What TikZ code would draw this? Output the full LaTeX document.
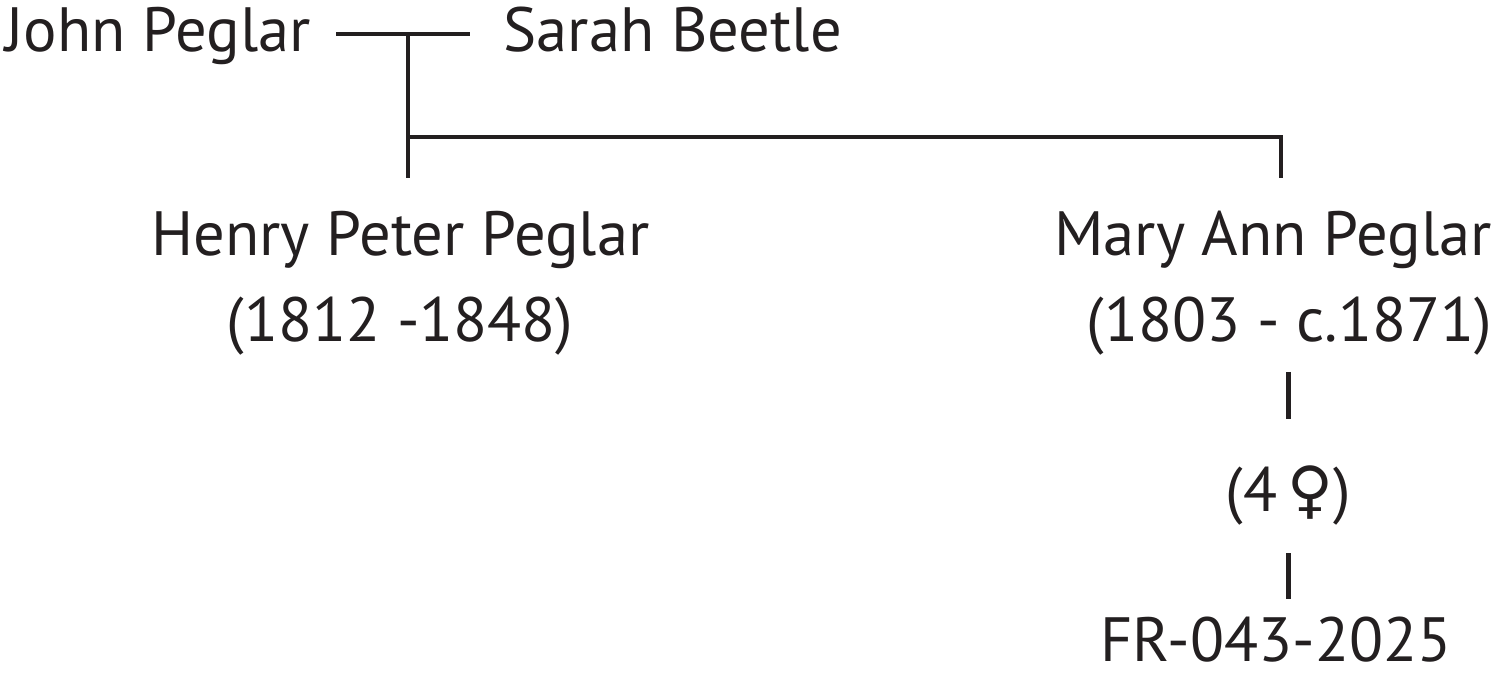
\documentclass[tikz,border=0pt]{standalone}
\usepackage{fontspec}
\setmainfont{PT Sans}
\newfontfamily\venusfont{DejaVu Sans}
\definecolor{ink}{RGB}{35,31,32}

\begin{document}
\begin{tikzpicture}[
	person/.style={inner sep=0pt, text=ink, font=\fontsize{17.8}{21}\selectfont},
	link/.style={draw=ink, line width=1.15pt},
	wedline/.style={draw=ink, line width=1.35pt}]
	\useasboundingbox (0,0) rectangle (15,6.72);
	% parents
	\node[person, anchor=base west] (john) at (0.05, 6.20) {John Peglar};
	\node[person, anchor=base west] (sarah) at (5.03, 6.20) {Sarah Beetle};
	\coordinate (wed) at (4.08, 6.38);
	\coordinate (kin) at (4.08, 5.35);
	% children
	\node[person, anchor=base] (henry) at (4.005, 4.17) {Henry Peter Peglar};
	\node[person, anchor=base] (hdates) at (4.00, 3.30) {(1812 -1848)};
	\node[person, anchor=base] (mary) at (12.73, 4.17) {Mary Ann Peglar};
	\node[person, anchor=base] (mdates) at (12.895, 3.30) {(1803 - c.1871)};
	\node[person, anchor=base] (kids) at (12.885, 1.61) {(4\,{\venusfont ♀})};
	\node[person, anchor=base] (fr) at (12.76, 0.11) {FR-043-2025};
	% lines
	\draw[wedline] ([xshift=2.5mm]john.east |- wed) -- ([xshift=-3.3mm]sarah.west |- wed);
	\draw[link] (wed) -- ([yshift=7.7mm]wed |- henry.base);
	\draw[link] (kin) -| ([xshift=0.8mm, yshift=7.7mm]mary.base);
	\draw[link] ([yshift=-3mm]kids.base |- mdates.base) -- ([yshift=9.2mm]kids.base);
	\draw[link] ([yshift=-4.2mm]kids.base) -- ([yshift=6.2mm]kids.base |- fr.base);
\end{tikzpicture}
\end{document}
